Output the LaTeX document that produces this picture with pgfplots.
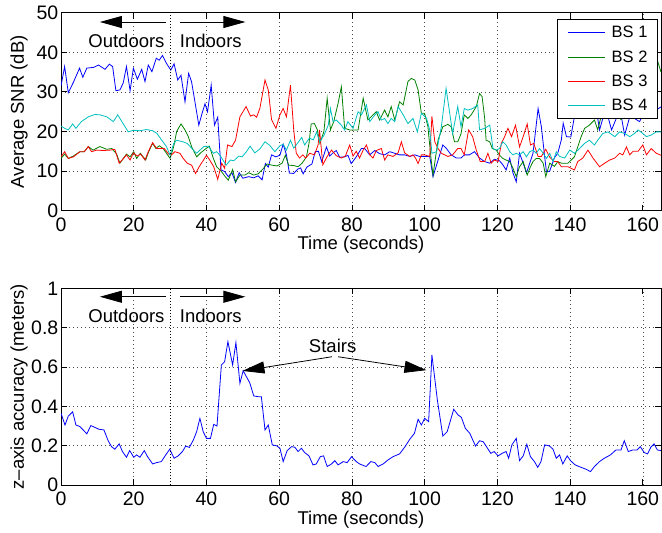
\documentclass[border=0pt]{standalone}
\usepackage{fontspec}
\setmainfont{Liberation Sans}
\usepackage{pgfplots}
\pgfplotsset{compat=1.18}
\usetikzlibrary{arrows.meta}

\definecolor{mblue}{rgb}{0,0,1}
\definecolor{mgreen}{rgb}{0,0.5,0}
\definecolor{mred}{rgb}{1,0,0}
\definecolor{mcyan}{rgb}{0,0.75,0.75}

\newcommand{\lblfont}{\fontsize{18.5bp}{21bp}\selectfont}
\newcommand{\tickfont}{\fontsize{19.5bp}{22bp}\selectfont}

\pgfplotsset{
  mstyle/.style={
    scale only axis,
    width=600bp,
    xmin=0, xmax=165,
    xtick={0,20,...,160},
    /pgf/number format/assume math mode=true,
    tick label style={font=\tickfont, inner sep=0bp},
    yticklabel style={xshift=-2.5bp},
    xticklabel style={yshift=-7bp},
    label style={font=\lblfont},
    axis line style={line width=0.9bp},
    major tick style={line width=0.8bp, black},
    major tick length=6bp,
    grid=major,
    grid style={black!70, line width=0.6bp, dash pattern=on 0.8bp off 3.2bp},
    xlabel={Time (seconds)},
    every axis plot/.append style={line width=0.8bp},
  },
}

\begin{document}
\begin{tikzpicture}
\path[use as bounding box] (0,0) rectangle (662bp,533bp);

% top: SNR
\begin{axis}[
  mstyle,
  at={(61bp,322.3bp)}, anchor=south west,
  height=198bp,
  ymin=0, ymax=50,
  ytick={0,10,...,50},
  ylabel={Average SNR (dB)},
  ylabel style={at={(axis description cs:-0.07,0.5)}, anchor=center},
  xlabel style={at={(axis description cs:0.5,-0.173)}, anchor=center},
  legend style={at={(axis description cs:0.995,0.968)}, anchor=north east,
    draw=black, line width=1bp, fill=white,
    font=\fontsize{16.5bp}{18bp}\selectfont,
    inner xsep=10bp, inner ysep=3.7bp, row sep=5.3bp, column sep=5.7bp,
    nodes={inner xsep=0bp, inner ysep=3bp}},
  legend cell align=left,
  legend image code/.code={\draw[#1, line width=1.1bp] (0bp,0bp) -- (37bp,0bp);},
]
\addplot[mblue] table {
0 31.5
1 36.4
2 29.8
3.4 32.4
5.1 36
6 33.7
7.1 36
9 36.2
10.3 36.8
12.1 35.7
13.3 37
14.2 36.4
15.1 30.3
16.2 30.5
17.1 32.2
18 36.4
19 30.3
19.9 36
21 33.2
22.2 35.7
23.1 32.6
24 36.8
25 35.1
26.2 38.5
27 38
27.9 39.2
29 37.2
30.2 35.5
31.1 37.1
32.1 33
33 34.2
34.1 27.5
35.1 34.7
35.9 32.6
36.9 27.1
37.9 21.6
38.8 24.6
39.6 27
40.3 25
41.3 31.7
42.2 21.6
43.1 23.6
44 10.3
45 9.9
46 8.6
47 9.6
48 7.1
49 9.6
50 8.2
51.6 8.6
53 8.3
54.2 8.8
55.3 7.8
56.2 11.9
57 11
57.9 14.1
59.1 13.6
60.2 14
61.1 16.8
62 14.1
62.8 9.5
64 9.4
65.1 10.5
65.9 10.8
66.6 9.3
67.6 11
69 11.8
69.9 14.9
70.8 15
71.7 12.4
73 16.1
73.9 13.8
74.8 14.6
75.7 15.2
76.6 13.5
78 13.6
78.9 14
79.8 11.9
81.2 13.6
82.6 15.7
83.5 15.7
84.9 14.1
86.3 15.2
87.6 14.4
89 14.1
90.4 14.9
91.8 14.5
93.1 14.1
94.5 14.1
95.9 13.7
97.3 14.1
98.6 13.7
100 13.7
101.4 13.7
102.3 8.6
103.7 12.8
105 16.6
105.9 15.8
107.3 14.1
108.7 13.3
110 13.3
110.9 14.1
112.3 14.1
113.7 14.9
115.1 13.3
116.5 12.4
117.9 12
119.2 13
120.6 12.6
121.5 11.6
122.4 10.3
123.4 13.3
124.3 9.5
125.2 7.3
126.1 14.5
127.1 12
128 9.5
128.9 12
129.8 14.5
131.2 25.8
132.1 21.2
133 13.7
133.5 9.8
134.4 10
135.7 13.4
136.6 14.5
137.6 17.9
138.1 22.1
139 18.7
140.2 18.6
141.1 23.3
141.8 24.6
143 26.5
144.5 28
146 26
147.6 23.3
148.1 20.4
149 23.3
150.2 24.5
151.4 20.4
152.7 23.3
154.1 23.7
155 19.1
156.4 23.7
157.7 23.3
159.1 22.5
160 24.2
161.4 24.6
163 25
164.6 26
165 26.2
};
\addlegendentry{BS 1}
\addplot[mgreen] table {
0 13.2
1 14.3
2 13.2
3.4 13.8
5.2 14.9
6.4 14.9
7.5 16.2
8.8 15.3
10.7 16.2
12.6 15.5
14 15.7
15.3 14.3
16.2 12
18 14.3
19 13.6
20 14.9
20.8 13.2
21.8 14.5
23.3 12.8
24.1 14.9
25.2 17
26.1 15.7
27 16.4
28.1 15.7
29 14.5
30 13.2
31 16.2
31.8 20
33 21.9
34.1 20.4
35 18.7
35.9 16.2
37.3 13.6
38.4 14.6
39.6 15.5
40.8 16.3
41.9 13.2
42.8 11.1
44.2 9.8
45 8.8
46 7.7
47.2 10.4
48 7.3
49.2 9
50.6 9
51.6 9.6
53 9
54.2 9.3
55.7 10.7
56.6 11.8
58 11.5
59.4 11.3
60.8 12
61.7 14
62.6 11.5
64 11.4
65.2 11.1
66.3 12
67.5 13.6
68.2 17
68.8 21.9
69.7 22
70.5 20.4
71.2 17
72.3 20
73.2 28.4
74.1 20.4
75 22.5
76.2 27.1
77.1 31.3
78 20.8
79.4 20.4
81.7 20.4
83.1 28.4
84.4 22.9
85.8 24.2
86.7 25
87.6 22.9
89 25.4
89.9 23.7
90.8 26.3
91.8 22.9
93.1 27.5
94.1 26.7
95.4 32.6
96.3 33.4
97.3 33
98.2 30.5
99.1 24.6
100 24.6
100.9 21.2
101.8 12.8
102.3 9
103.7 17.9
105 21.2
106.4 21.8
107.3 21.2
108.2 17.4
109.1 17.4
110 19.4
110.9 24.2
111.9 23.3
112.8 24.2
114.2 26.3
115.1 29.6
115.8 28.8
116.5 23.4
116.9 17.8
117.9 17.4
118.6 15.7
119.7 15.3
120.6 14
121.5 13.2
122.4 12.8
123.4 12.4
124.3 10.7
125.2 8.6
126.1 11.1
127.1 12.4
128.2 9
129.1 11.1
129.8 12.4
130.7 13.2
131.6 13.2
132.6 12
133.3 8.6
134.4 12
135.7 11.2
136.6 12.4
137.6 12
139.4 12
141.2 13.6
142.1 16.1
143 18.6
144 20.8
145.3 21.6
146.7 22.9
147.6 20.4
148.5 23.7
150 24
152 25.5
154 23
156 26
158 24
160 25
161 27
162 30
163 36
164 38
165 35
};
\addlegendentry{BS 2}
\addplot[mred] table {
0 13.6
1 14.9
2 13.2
3.4 13.6
5.2 14.9
6.4 14.9
7.5 16.2
8.4 14.9
9.8 15.3
11.6 15.2
13.5 15.3
14.8 15.5
16 12
17.2 13.2
18 14.1
19 12.8
19.9 14.6
21 13.8
21.9 14.3
23.1 12.8
24 14.9
25.2 17.2
26.3 15.7
27.2 15.7
28.4 15.7
29.6 14.3
30.4 14.1
31.3 14.9
32.7 14.5
33.6 13.2
34.7 12
35.9 11.5
37 9.4
38 11.1
39.2 12.8
40 14
40.9 12.8
42 11.1
43.1 7.9
44.2 12
45 10.7
45.8 16.6
47 16.2
48 17.8
49.2 23.7
50.9 26.3
52.1 23.9
53 24.2
53.8 23.6
54.7 25.9
56.1 33
57 30.5
57.9 23
59.1 20.8
60.2 24.2
61.1 25.8
62 23.7
63.1 31.7
64 20.4
64.7 14.5
65.6 13.3
66.5 14.1
67.3 13.3
68.4 14.5
69.7 14.1
70.7 16.6
71.1 20.4
72 11.6
73.2 13.7
74.4 15.3
75.7 13.9
77.1 13.3
78.2 13.8
79.4 16.6
80.3 13.8
81.2 15
82.1 13.3
83.1 15.3
84 16.6
84.9 14.1
85.8 13.3
86.7 15.2
88.1 15.7
89 12.8
89.9 14.1
91.3 13.7
92.7 14.6
93.6 17.4
94.5 14.6
95.9 13.7
96.8 14.1
97.5 13.3
98.2 11.9
99.1 14.1
100 14.1
101.4 13.7
102 23.8
102.8 17.4
103.7 15.7
104.6 14.5
105.5 14.1
106.4 13.7
107.7 14.1
109.1 15.7
110 15.7
110.9 14.1
112.1 20.4
113.2 18.7
114.2 15.3
115.3 12.4
116.5 12.4
117.4 14.5
118.3 12
119.2 12.8
120.2 12.4
121.1 17
122 18.7
122.9 20.8
123.9 18.7
125 21.6
126.1 16.1
127.1 18.7
128.2 21.9
129.1 16.6
130 17
131.2 13.7
132.1 13.7
133.3 15.5
134.4 13.5
135.7 12.4
136.6 12.4
137.6 11.1
139.4 11.1
141.2 10.3
142.1 12.4
143.5 13.3
144.9 15.3
146.3 13.3
148.1 11.1
149.5 12
150.9 12.8
152.3 13.3
153.6 14.5
154.5 14.1
155.5 16.1
156.4 14.1
157.3 15
158.7 15
160 16.6
161 14.1
162.3 15.7
163.7 14.5
165 14
};
\addlegendentry{BS 3}
\addplot[mcyan] table {
0 21.4
1 20.8
2 20.4
3.2 21.9
4.1 20.8
5.6 22.5
7.5 23.7
9.3 24.3
10.7 24.2
12.6 23.7
14.4 22.5
15.6 24.2
17 22.1
18.5 19.9
19.9 20.3
21.7 20.2
23.5 20.5
25.2 20.2
26.4 19.5
27.7 17.8
29 16.2
30 14
31 17
31.8 17.8
33.5 17.4
34.7 17
36 15.7
37.3 14.5
38.2 15.3
39.3 16.2
40.5 16.3
41.9 14.5
42.8 14.9
43.7 14
45.4 11.5
46.6 12.8
47.5 12.6
48.9 13.8
49.8 13.6
51 14.9
52 16.3
53.3 14.6
54.7 15.6
56.1 17.4
57.4 16.5
58.8 14.9
60.2 16.4
61.1 16.8
62 15.3
63.1 17.8
64 15.8
64.7 16.6
66.2 18.5
67 16.6
68.3 18.3
69.4 17.9
70.3 19.9
71.1 17.4
72.3 19
73.5 21.6
74.1 25.8
74.8 22.5
75.7 22.9
77.1 21.6
78 20.4
78.9 22.5
80.3 20.8
81.7 25
82.6 24.2
84 26.7
84.9 22.5
86.3 24.2
87.2 25
88.1 22.9
89 23.3
89.9 22
90.8 23.3
91.8 22.5
92.7 26.3
94.1 24.2
95.4 22
96.8 23.3
98 19.9
99.1 24.6
100.5 23.4
101.4 20.4
102 14.5
103.3 14.9
104.6 21.2
105.9 30.9
106.9 24.6
107.7 19.5
109.1 26.3
110 21.2
110.9 25.8
111.9 25.4
113.2 25.8
114.6 26.7
115.1 20.4
116.5 20.8
117.9 21.6
118.8 15.7
119.7 15.3
120.6 15.7
121.5 17.4
122.4 16.6
123.4 14.9
124.3 14.1
125.2 14.5
126.1 14.1
127.1 14.9
128 13.6
128.9 14.9
129.8 15.3
130.7 14.5
131.6 15.7
132.6 14.5
133.5 13.2
134.4 14.5
135.3 12.4
136.2 14.9
137.1 13.7
138.5 13.3
139.9 15.3
141.2 14.5
142.6 15.7
144 17
145.3 17.8
146.7 16.6
147.6 17.8
149 19.5
150.4 19.9
152.3 18.7
153.6 19.9
155 19.5
156.4 18.7
157.7 19.5
158.7 20.4
160 19.5
161 18.7
162.3 19.1
163.7 19.9
165 19.9
};
\addlegendentry{BS 4}
\draw[black, line width=0.9bp, dash pattern=on 0.8bp off 2.2bp] (axis cs:30,0) -- (axis cs:30,50);
\draw[line width=0.8bp, -{Triangle[length=22bp,width=12bp]}] (axis cs:28.8,47.65) -- (axis cs:10.7,47.65);
\draw[line width=0.8bp, -{Triangle[length=22bp,width=12bp]}] (axis cs:32.7,47.65) -- (axis cs:50.7,47.65);
\node[font=\lblfont, inner sep=0pt] at (axis cs:18,42.85) {Outdoors};
\node[font=\lblfont, inner sep=0pt] at (axis cs:41.2,42.85) {Indoors};
\end{axis}

% bottom: z-axis accuracy
\begin{axis}[
  mstyle,
  at={(61bp,48bp)}, anchor=south west,
  height=196.7bp,
  ymin=0, ymax=1,
  ytick={0,0.2,...,1},
  ylabel={z\textendash axis accuracy (meters)},
  ylabel style={at={(axis description cs:-0.07,0.5)}, anchor=center},
  xlabel style={at={(axis description cs:0.5,-0.178)}, anchor=center},
]
\addplot[mblue] table {
0 0.365
1.1 0.305
2 0.35
3.2 0.372
4.1 0.305
5.2 0.297
6.1 0.28
7.1 0.26
8.2 0.302
9.3 0.293
10.5 0.283
11.8 0.28
13 0.224
13.9 0.195
14.8 0.182
16 0.209
16.9 0.17
18 0.141
18.9 0.175
20 0.141
20.8 0.153
21.7 0.141
22.9 0.175
23.8 0.144
25.2 0.107
26.3 0.114
27.6 0.119
28.8 0.153
29.9 0.182
31.1 0.136
32.2 0.148
33.4 0.17
34.3 0.198
35.3 0.191
36.4 0.229
37.3 0.271
38.2 0.339
39.1 0.271
40 0.237
41.1 0.237
42 0.308
42.9 0.3
44.1 0.61
45 0.627
45.9 0.729
47.2 0.61
48.1 0.724
49.2 0.517
50.1 0.581
51 0.55
51.9 0.52
53 0.453
54.2 0.449
55.1 0.449
56.1 0.28
57 0.305
58.1 0.204
59.3 0.199
60.2 0.187
61.1 0.119
62.2 0.175
63.4 0.195
64.3 0.192
65.2 0.17
66.1 0.187
67 0.165
68.2 0.148
69.3 0.102
70.2 0.107
71.3 0.144
72.2 0.148
73.2 0.094
74.4 0.107
75.3 0.124
76.2 0.102
77.6 0.119
78.7 0.114
79.9 0.144
81.2 0.119
82.1 0.107
83.9 0.094
85.2 0.119
86.3 0.114
87.2 0.094
88.6 0.107
89.9 0.127
91.3 0.144
93.1 0.158
94.5 0.192
95.9 0.232
97.2 0.263
98.2 0.334
99.1 0.305
100 0.339
101.1 0.322
102 0.661
103.5 0.432
105 0.249
106.2 0.271
108 0.385
109.2 0.356
110.1 0.344
111.2 0.288
112.4 0.263
114 0.198
115.1 0.225
116.1 0.22
117 0.195
118.2 0.161
119.1 0.17
120.2 0.148
121.3 0.161
122.4 0.17
123.1 0.136
124 0.204
125.2 0.237
126.1 0.124
127.1 0.148
128.1 0.207
129.1 0.144
130.2 0.119
131.1 0.09
132 0.119
133 0.204
134.3 0.199
135.3 0.182
136.2 0.136
137.1 0.153
138 0.107
139.2 0.148
140.1 0.124
141.4 0.102
143 0.09
144.4 0.08
145.6 0.068
146.7 0.094
148.1 0.119
149.4 0.136
151.1 0.153
152.6 0.178
154 0.178
154.9 0.225
156 0.17
157.2 0.178
158.4 0.178
159.3 0.195
160.4 0.165
161.3 0.158
162.2 0.192
163.1 0.209
164 0.178
165 0.175
};
\draw[black, line width=0.9bp, dash pattern=on 0.8bp off 2.2bp] (axis cs:30,0) -- (axis cs:30,1);
\draw[line width=0.8bp, -{Triangle[length=22bp,width=12bp]}] (axis cs:28.8,0.957) -- (axis cs:10.7,0.957);
\draw[line width=0.8bp, -{Triangle[length=22bp,width=12bp]}] (axis cs:32.7,0.957) -- (axis cs:50.7,0.957);
\node[font=\lblfont, inner sep=0pt] at (axis cs:18,0.861) {Outdoors};
\node[font=\lblfont, inner sep=0pt] at (axis cs:41.2,0.861) {Indoors};
\node[font=\lblfont, inner sep=0pt] at (axis cs:74.7,0.707) {Stairs};
\draw[line width=0.8bp, -{Triangle[length=22bp,width=12bp]}] (axis cs:74.5,0.652) -- (axis cs:49.9,0.58);
\draw[line width=0.8bp, -{Triangle[length=22bp,width=12bp]}] (axis cs:76.2,0.652) -- (axis cs:100.5,0.584);
\end{axis}
\end{tikzpicture}
\end{document}
